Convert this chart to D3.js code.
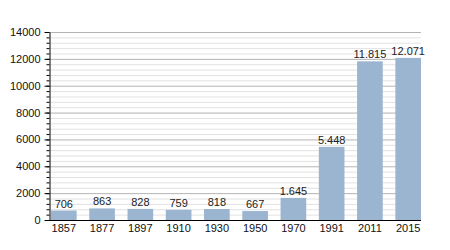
<!DOCTYPE html>
<html>
<head>
<meta charset="utf-8">
<script src="https://cdn.jsdelivr.net/npm/d3@7"></script>
<style>
  body { margin: 0; background: #fff; }
  text { font-family: "Liberation Sans", Arial, sans-serif; }
</style>
</head>
<body>
<div id="chart"></div>
<script>
const years = ["1857", "1877", "1897", "1910", "1930", "1950", "1970", "1991", "2011", "2015"];
const population = [706, 863, 828, 759, 818, 667, 1645, 5448, 11815, 12071];
const yTicks = [0, 2000, 4000, 6000, 8000, 10000, 12000, 14000];

const data = years.map((y, i) => ({ year: y, value: population[i] }));

const svg = d3.select("#chart").append("svg")
    .attr("width", 450)
    .attr("height", 250);

// Scales
const x = d3.scaleBand()
    .domain(years)
    .range([51, 421])
    .paddingInner(0.33)
    .paddingOuter(0);

const y = d3.scaleLinear()
    .domain([0, 14000])
    .range([220, 32]);

const minor = d3.range(0, 14001, 400);

// Minor grid
svg.append("g")
    .selectAll("line")
    .data(minor.filter(v => v % 2000 !== 0))
    .enter().append("line")
    .attr("x1", 50).attr("x2", 421)
    .attr("y1", d => y(d) + 0.5).attr("y2", d => y(d) + 0.5)
    .attr("stroke", "#e2e2e2");

// Major grid
svg.append("g")
    .selectAll("line")
    .data(yTicks.filter(v => v > 0))
    .enter().append("line")
    .attr("x1", 50).attr("x2", 421)
    .attr("y1", d => y(d) + 0.5).attr("y2", d => y(d) + 0.5)
    .attr("stroke", "#b4b4b4");

// Bars
svg.append("g")
    .selectAll("rect")
    .data(data)
    .enter().append("rect")
    .attr("x", d => x(d.year))
    .attr("y", d => y(d.value))
    .attr("width", x.bandwidth())
    .attr("height", d => y(0) - y(d.value))
    .attr("fill", "#9bb4cf");

// Value labels, dot as thousands separator
const fmt = d3.formatLocale({ decimal: ",", thousands: ".", grouping: [3], currency: ["", ""] }).format(",");
svg.append("g")
    .selectAll("text")
    .data(data)
    .enter().append("text")
    .attr("x", d => x(d.year) + x.bandwidth() / 2)
    .attr("y", d => y(d.value) - 3)
    .attr("text-anchor", "middle")
    .style("font-size", "11px")
    .attr("fill", "#222")
    .text(d => fmt(d.value));

// Y axis with minor ticks
svg.append("g")
    .attr("transform", "translate(49.5,0)")
    .call(d3.axisLeft(y).tickValues(minor).tickSize(3).tickFormat(""))
    .call(g => g.select(".domain").remove());

svg.append("g")
    .attr("transform", "translate(49.5,0)")
    .call(d3.axisLeft(y).tickValues(yTicks).tickSize(5).tickPadding(4).tickSizeOuter(0).tickFormat(d3.format("d")))
    .call(g => g.selectAll("text").style("font-size", "11px").attr("fill", "#111"));

// X axis
svg.append("g")
    .attr("transform", "translate(0,220.5)")
    .call(d3.axisBottom(x).tickSize(0).tickPadding(4))
    .call(g => g.select(".domain").attr("d", "M49,0H421"))
    .call(g => g.selectAll("text").style("font-size", "11px").attr("fill", "#111"));
</script>
</body>
</html>
